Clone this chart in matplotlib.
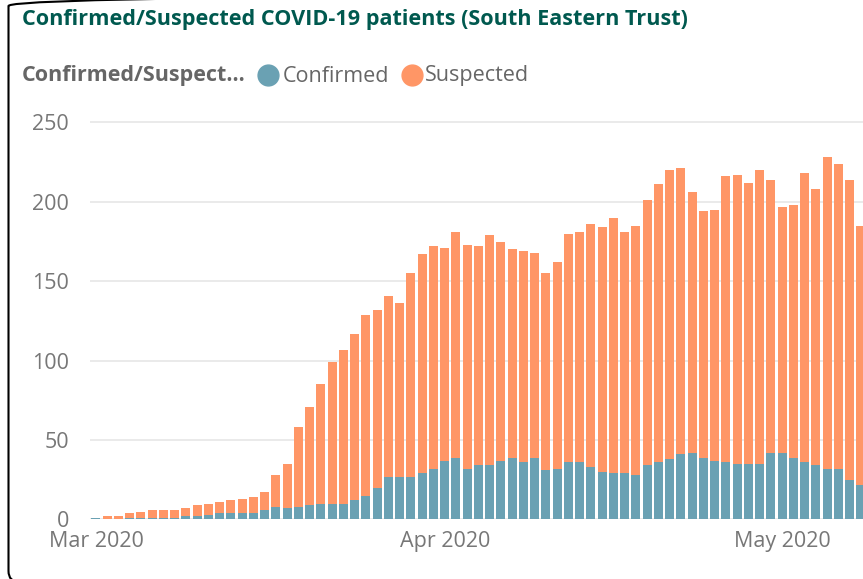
import matplotlib
matplotlib.use("Agg")
import matplotlib.pyplot as plt
import matplotlib.dates as mdates
import pandas as pd
from matplotlib.lines import Line2D
from matplotlib.patches import FancyBboxPatch
from matplotlib.transforms import IdentityTransform

plt.rcParams["font.family"] = ["Open Sans", "DejaVu Sans"]

# daily patient counts, 1 Mar 2020 onwards
start_date = "2020-03-01"
confirmed = [1, 0, 0, 1, 1, 1, 1, 1, 2, 2, 3, 4, 4, 4, 4, 6, 8, 7, 8, 9,
             10, 10, 10, 12, 15, 20, 27, 27, 27, 29, 32, 37, 39, 32, 34, 34,
             37, 39, 36, 39, 31, 32, 36, 36, 33, 30, 29, 29, 28, 34, 36, 38,
             41, 42, 39, 37, 36, 35, 35, 35, 42, 42, 39, 36, 34, 32, 32, 25, 22]
suspected = [0, 2, 2, 3, 4, 5, 5, 5, 5, 7, 7, 7, 8, 9, 10, 11, 20, 28, 50, 62,
             75, 89, 97, 105, 114, 112, 114, 109, 128, 138, 140, 134, 142, 141,
             138, 145, 138, 131, 133, 129, 124, 130, 144, 145, 153, 154, 161,
             152, 157, 167, 175, 182, 180, 164, 155, 158, 180, 182, 177, 185,
             172, 155, 159, 182, 174, 196, 192, 189, 163]
legend_labels = ["Confirmed", "Suspected"]
colors = ["#6AA1B3", "#FF9666"]
y_ticks = [0, 50, 100, 150, 200, 250]

dates = pd.date_range(start_date, periods=len(confirmed), freq="D")

fig = plt.figure(figsize=(8.63, 5.79), dpi=100)
ax = fig.add_axes([0.1043, 0.1028, 0.8957, 0.6995])

ax.bar(dates, confirmed, width=0.8, color=colors[0], zorder=3)
ax.bar(dates, suspected, width=0.8, bottom=confirmed, color=colors[1], zorder=3)

x0 = mdates.date2num(dates[0])
ax.set_xlim(x0 - 0.53, x0 + 68.18)
ax.set_ylim(0, 255)
ax.set_yticks(y_ticks)
ax.yaxis.grid(True, color="#E6E6E6", linewidth=1.2, zorder=0)
ax.set_axisbelow(True)
for s in ax.spines.values():
    s.set_visible(False)

ax.xaxis.set_major_locator(mdates.MonthLocator())
ax.xaxis.set_major_formatter(mdates.DateFormatter("%b %Y"))
ax.tick_params(axis="y", length=0, pad=15, labelsize=15.5, labelcolor="#777777")
ax.tick_params(axis="x", length=0, pad=8, labelsize=15.5, labelcolor="#777777")

# title and legend row
fig.text(22 / 863, 1 - 20 / 579, "Confirmed/Suspected COVID-19 patients (South Eastern Trust)",
         fontsize=15.6, fontweight="bold", color="#00594F", va="center", ha="left")
fig.text(22 / 863, 1 - 76 / 579, "Confirmed/Suspect...", fontsize=15.5,
         fontweight="bold", color="#666666", va="center", ha="left")
for cx, tx, lab, c in [(268, 283, legend_labels[0], colors[0]),
                       (412, 425, legend_labels[1], colors[1])]:
    fig.add_artist(Line2D([cx / 863], [1 - 75 / 579], marker="o", markersize=15,
                          color=c, linestyle="none", transform=fig.transFigure))
    fig.text(tx / 863, 1 - 76 / 579, lab, fontsize=15.5, color="#666666",
             va="center", ha="left")

# rounded border of the visual, mostly outside the picture
fig.patches.append(FancyBboxPatch((8.5, -3), 900, 587,
                                  boxstyle="round,pad=0,rounding_size=11",
                                  transform=IdentityTransform(), fill=False,
                                  edgecolor="black", linewidth=1.5))

fig.savefig("out.png", dpi=100)
